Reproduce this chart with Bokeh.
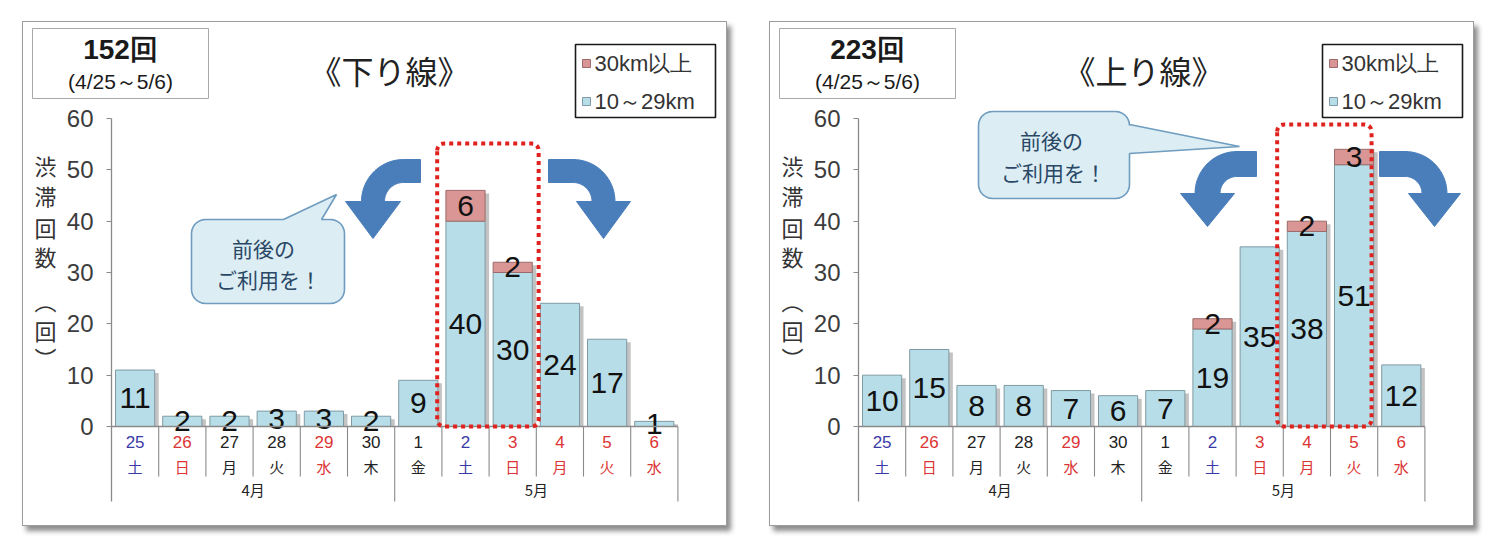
import numpy as np
from bokeh.plotting import figure
from bokeh.layouts import row, column, Spacer
from bokeh.models import Range1d, LinearAxis, FixedTicker
from bokeh.core.properties import value
from bokeh.embed import file_html
from bokeh.resources import INLINE

# ---------------- data ----------------
days = ["25", "26", "27", "28", "29", "30", "1", "2", "3", "4", "5", "6"]
weekdays = ["土", "日", "月", "火", "水", "木", "金", "土", "日", "月", "火", "水"]
day_types = ["sat", "hol", "wd", "wd", "hol", "wd", "wd", "sat", "hol", "hol", "hol", "hol"]
months = ["4月", "5月"]
month_start = [0, 6]
series_names = ["30km以上", "10～29km"]

down_10_29 = [11, 2, 2, 3, 3, 2, 9, 40, 30, 24, 17, 1]
down_30plus = [0, 0, 0, 0, 0, 0, 0, 6, 2, 0, 0, 0]
up_10_29 = [10, 15, 8, 8, 7, 6, 7, 19, 35, 38, 51, 12]
up_30plus = [0, 0, 0, 0, 0, 0, 0, 2, 0, 2, 3, 0]

down_title = "《下り線》"
up_title = "《上り線》"
down_total = "152回"
up_total = "223回"
period = "(4/25～5/6)"
callout_lines = ["前後の", "ご利用を！"]
y_title_chars = ["渋", "滞", "回", "数"]
y_unit_chars = ["︵", "回", "︶"]
y_ticks = [0, 10, 20, 30, 40, 50, 60]
down_highlight = [7, 8]
up_highlight = [9, 10]

# ---------------- styles ----------------
TYPE_COLOR = {"sat": "#3a3aa6", "hol": "#db3434", "wd": "#222222"}
BLUE = "#b7dee8"
BLUE_LINE = "#7f9aa3"
PINK = "#d99694"
PINK_LINE = "#9a6b6a"
ARROW = "#4a7ebb"
LAT_FONT = "Liberation Sans"
CJK = "Noto Sans CJK JP"

W, H = 705, 505
AX = 88          # panel px of the value axis (x = 0)
CW = 47.2        # px per category
Y0 = 404         # panel px of value 0
PY = 5.133       # px per unit


def dx(px):
    return (px - AX) / CW


def dy(py):
    return (Y0 - py) / PY


def conv(pts):
    return [dx(a) for a, b in pts], [dy(b) for a, b in pts]


def arrow_pts(E, Cx, Cy, R, r, hw, hl, d):
    pts = [(E, Cy - R), (Cx, Cy - R)]
    for t in np.linspace(0, np.pi / 2, 20):
        pts.append((Cx + d * R * np.sin(t), Cy - R * np.cos(t)))
    sc = Cx + d * (R + r) / 2
    pts += [(sc + d * hw, Cy), (sc, Cy + hl), (sc - d * hw, Cy)]
    for t in np.linspace(np.pi / 2, 0, 20):
        pts.append((Cx + d * r * np.sin(t), Cy - r * np.cos(t)))
    pts.append((E, Cy - r))
    return pts


def corner(cx, cy, rad, a0, a1):
    return [(cx + rad * np.cos(a), cy + rad * np.sin(a)) for a in np.linspace(np.radians(a0), np.radians(a1), 8)]


def bubble_pts(x0, y0, x1, y1, rad, tail):
    side, a, b, tx, ty = tail
    pts = corner(x0 + rad, y0 + rad, rad, 180, 270)
    if side == "top":
        pts += [(a, y0), (tx, ty), (b, y0)]
    pts += corner(x1 - rad, y0 + rad, rad, 270, 360)
    if side == "right":
        pts += [(x1, a), (tx, ty), (x1, b)]
    pts += corner(x1 - rad, y1 - rad, rad, 0, 90)
    pts += corner(x0 + rad, y1 - rad, rad, 90, 180)
    return pts


def rounded_rect_line(x0, y0, x1, y1, rad):
    pts = corner(x0 + rad, y0 + rad, rad, 180, 270)
    pts += corner(x1 - rad, y0 + rad, rad, 270, 360)
    pts += corner(x1 - rad, y1 - rad, rad, 0, 90)
    pts += corner(x0 + rad, y1 - rad, rad, 90, 180)
    pts.append(pts[0])
    return pts


def ctext(p, x, y, text, font, size, color="#1a1a1a", align="center", style="normal"):
    p.text(x=x, y=y, text=text, text_font=value(font), text_font_size=size, text_color=color,
           text_align=align, text_baseline="middle", text_font_style=style)


def make_panel(short, long_, total_text, title, title_cx, hl, hl_pad, hl_top,
               bubble, text_pos, arrows):
    p = figure(width=W, height=H, output_backend="svg", toolbar_location=None,
               x_range=Range1d(dx(0), dx(W)), y_range=Range1d(dy(H), dy(0)),
               x_axis_type=None, y_axis_type=None,
               min_border_left=0, min_border_right=0, min_border_top=0, min_border_bottom=0)
    p.outline_line_color = None
    p.background_fill_color = "white"
    p.border_fill_color = "white"
    p.styles = {"border": "1px solid #9c9c9c", "box-shadow": "4px 5px 5px #8c8c8c"}

    yaxis = LinearAxis(ticker=FixedTicker(ticks=y_ticks), bounds=(dy(479), 60), fixed_location=0,
                       axis_line_color="#8a8a8a", axis_line_width=1.3,
                       major_tick_line_color="#8a8a8a", major_tick_out=5, major_tick_in=0,
                       minor_tick_line_color=None,
                       major_label_text_font=LAT_FONT, major_label_text_font_size="24px",
                       major_label_text_color="#3c3c3c", major_label_standoff=13)
    p.add_layout(yaxis, "left")

    n = len(days)
    x = np.arange(n) + 0.5
    s = np.array(short, dtype=float)
    l = np.array(long_, dtype=float)
    tot = s + l
    bw = 0.83

    # shadow, then stacked bars
    p.vbar(x=x + 4 / CW, top=tot - 3 / PY, bottom=0, width=bw,
           fill_color="#7a7a7a", fill_alpha=0.45, line_color=None)
    p.vbar(x=x, top=s, bottom=0, width=bw, fill_color=BLUE, line_color=BLUE_LINE, line_width=1)
    m = l > 0
    p.vbar(x=x[m], bottom=s[m], top=tot[m], width=bw, fill_color=PINK,
           line_color=PINK_LINE, line_width=1)

    ctext(p, x, s / 2, [str(int(v)) for v in s], LAT_FONT, "30px", "#111111")
    ctext(p, x[m], s[m] + l[m] / 2, [str(int(v)) for v in l[m]], LAT_FONT, "30px", "#111111")

    # category axis drawn by hand (two-level: day / month)
    p.segment(x0=[0], y0=[0], x1=[n], y1=[0], line_color="#8a8a8a", line_width=1.3)
    bounds = np.arange(1, n + 1)
    month_b = set(month_start[1:]) | {n}
    p.segment(x0=bounds, x1=bounds, y0=0,
              y1=[dy(479) if b in month_b else dy(454) for b in bounds],
              line_color="#8a8a8a", line_width=1.1)
    cols = [TYPE_COLOR[t] for t in day_types]
    ctext(p, x, dy(419), days, LAT_FONT, "17px", cols)
    ctext(p, x, dy(444), weekdays, CJK, "15px", cols)
    ends = month_start[1:] + [n]
    mx = [(a + b) / 2 for a, b in zip(month_start, ends)]
    ctext(p, mx, dy(467), months, CJK, "15px", "#222222")

    # highlight box
    X0 = AX + (hl[0] + hl_pad[0]) * CW
    X1 = AX + (hl[-1] + 1 + hl_pad[1]) * CW
    hx, hy = conv(rounded_rect_line(X0, hl_top, X1, Y0, 7))
    p.line(hx, hy, line_color="#e0221e", line_width=4, line_dash="4 4")

    # arrows
    for a in arrows:
        ax_, ay_ = conv(arrow_pts(*a))
        p.patch(ax_, ay_, fill_color=ARROW, line_color=ARROW, line_width=1)

    # callout
    bx, by = conv(bubble_pts(*bubble))
    p.patch(bx, by, fill_color="#dcedf4", line_color="#6f9cbf", line_width=1.6)
    for (tx, ty), t in zip(text_pos, callout_lines):
        ctext(p, [dx(tx)], [dy(ty)], [t], CJK, "21px", "#2a4866")

    # legend
    p.quad(left=[dx(552)], right=[dx(692)], top=[dy(22)], bottom=[dy(95)],
           fill_color="white", line_color="#1a1a1a", line_width=1.6)
    p.scatter(x=[dx(563), dx(563)], y=[dy(41), dy(79)], marker="square", size=8,
              fill_color=[PINK, BLUE], line_color=[PINK_LINE, BLUE_LINE])
    ctext(p, [dx(571), dx(571)], [dy(41), dy(79)], series_names, LAT_FONT, "22px", "#333333", "left")

    # title
    ctext(p, [dx(title_cx)], [dy(47)], [title], CJK, "32px", "#222222")

    # total box
    p.quad(left=[dx(9)], right=[dx(185)], top=[dy(6)], bottom=[dy(76)],
           fill_color="white", line_color="#a8a8a8", line_width=1)
    ctext(p, [dx(97)], [dy(27)], [total_text], LAT_FONT, "28px", "#1a1a1a", style="bold")
    ctext(p, [dx(97)], [dy(59)], [period], LAT_FONT, "21px", "#1a1a1a")

    # y-axis title (vertical writing)
    ctext(p, [dx(22)] * 4, [dy(v) for v in [142, 172, 204, 233]], y_title_chars, CJK, "22px", "#333333")
    ctext(p, [dx(22)] * 3, [dy(v) for v in [277, 307, 334]], y_unit_chars, CJK, "22px", "#333333")
    return p


p_down = make_panel(
    down_10_29, down_30plus, down_total, down_title, 366,
    down_highlight, (-0.1, 0.05), 121,
    (168, 197, 321, 281, 14, ("top", 260, 298, 313, 172)),
    [(240, 225), (245, 256)],
    [(397, 380, 179, 42, 19, 27.5, 37, -1), (525, 549.5, 179, 42, 19, 27, 37, 1)],
)
p_up = make_panel(
    up_10_29, up_30plus, up_total, up_title, 373,
    up_highlight, (-0.13, -0.13), 102,
    (208, 89, 359, 176, 14, ("right", 102, 131, 469, 124)),
    [(281, 117), (283, 149)],
    [(486, 466.5, 171, 42, 17, 27, 33, -1), (609, 634.5, 171, 42, 17, 26, 33, 1)],
)

layout = column(Spacer(height=21), row(Spacer(width=22), p_down, Spacer(width=42), p_up))
open("out.html", "w").write(file_html(layout, INLINE, title="渋滞回数"))
